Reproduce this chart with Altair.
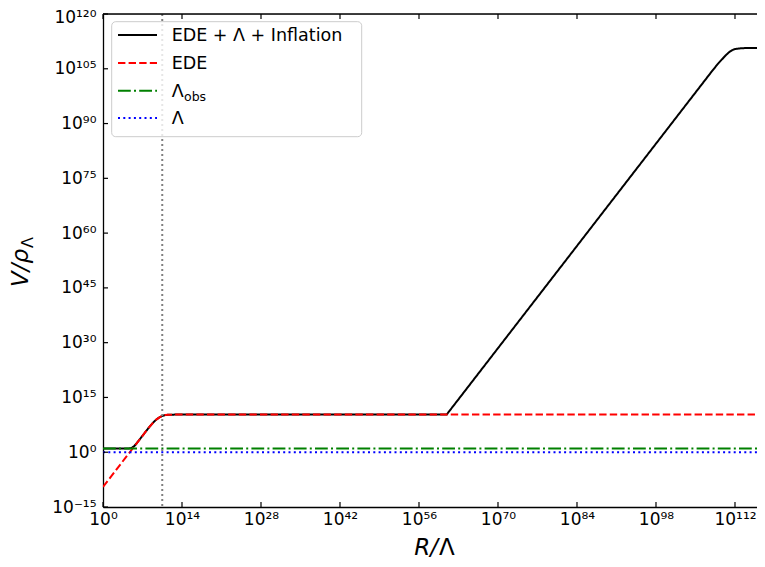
import altair as alt
import pandas as pd

# ---- data (log10 values) ----
X_TICK_EXP = [0, 14, 28, 42, 56, 70, 84, 98, 112]
Y_TICK_EXP = [-15, 0, 15, 30, 45, 60, 75, 90, 105, 120]
X_MIN_EXP, X_MAX_EXP = 0, 115.9
Y_MIN_EXP, Y_MAX_EXP = -15, 120

LOGR_TOTAL = [0, 4, 4.5, 5, 5.5, 6, 6.5, 7, 8, 9, 9.5, 10, 10.5, 11, 11.5, 12, 13, 60.9,
              70, 80, 90, 100, 108, 109, 110, 110.5, 111, 111.5, 112, 113, 114, 117.3]
LOGV_TOTAL = [1, 1.0, 1.01, 1.12, 1.62, 2.51, 3.5, 4.5, 6.5, 8.3, 9.0, 9.55, 9.95, 10.17, 10.26, 10.29, 10.3, 10.3,
              28.5, 48.5, 68.5, 88.5, 104.5, 106.4, 108.1, 108.9, 109.6, 110.1, 110.4, 110.6, 110.7, 110.7]

LOGR_EDE = [0, 2, 4, 6, 8, 9, 9.5, 10, 10.5, 11, 11.5, 12, 13, 117.3]
LOGV_EDE = [-9.5, -5.5, -1.5, 2.5, 6.5, 8.3, 9.0, 9.55, 9.95, 10.17, 10.26, 10.29, 10.3, 10.3]

LOGR_FLAT = [0, 117.3]
LOGV_LOBS = [1, 1]
LOGV_LAMBDA = [0, 0]

LOGR_MARKER = [10.5]

LEGEND_LABELS = ["EDE + Λ + Inflation", "EDE", "Λ", "Λ"]
LEGEND_SUB = ["", "", "obs", ""]

# ---- styles ----
COLORS = ["#000000", "#ff0000", "#008000", "#0000ff"]
DASHES = [[1, 0], [7.4, 3.2], [12.8, 3.2, 2, 3.2], [2, 3.3]]
FONT = "DejaVu Sans"
W, H = 654, 493

SUP = str.maketrans("0123456789-", "⁰¹²³⁴⁵⁶⁷⁸⁹⁻")


def sup(n):
    return str(n).translate(SUP)


def label_expr(exps):
    e = "round(log(datum.value)/LN10)"
    return "".join(f"{e}=={k} ? '10{sup(k)}' : " for k in exps) + "''"


XS = alt.Scale(type="log", domain=[10 ** X_MIN_EXP, 10 ** X_MAX_EXP], nice=False)
YS = alt.Scale(type="log", domain=[10.0 ** Y_MIN_EXP, 10.0 ** Y_MAX_EXP], nice=False)
XAX = alt.Axis(values=[10.0 ** e for e in X_TICK_EXP], labelExpr=label_expr(X_TICK_EXP),
               ticks=False, grid=False, title=None, domainColor="black", domainWidth=1.3,
               labelFont=FONT, labelFontSize=17, labelColor="black", labelPadding=4,
               labelFlush=False, labelOverlap=False)
YAX = alt.Axis(values=[10.0 ** e for e in Y_TICK_EXP], labelExpr=label_expr(Y_TICK_EXP),
               ticks=False, grid=False, title=None, domainColor="black", domainWidth=1.3,
               labelFont=FONT, labelFontSize=17, labelColor="black", labelPadding=7,
               labelOffset={"condition": {"test": "datum.value > 1e110", "value": 3}, "value": 0},
               labelFlush=False, labelOverlap=False)


def X(f):
    return alt.X(f, type="quantitative", scale=XS, axis=XAX)


def Y(f):
    return alt.Y(f, type="quantitative", scale=YS, axis=YAX)


def series_df(lr, lv):
    return pd.DataFrame({"R": [10.0 ** v for v in lr], "V": [10.0 ** v for v in lv],
                         "i": list(range(len(lr)))})


series = [
    series_df(LOGR_TOTAL, LOGV_TOTAL),
    series_df(LOGR_EDE, LOGV_EDE),
    series_df(LOGR_FLAT, LOGV_LOBS),
    series_df(LOGR_FLAT, LOGV_LAMBDA),
]

layers = []
for df, c, d in zip(series, COLORS, DASHES):
    layers.append(
        alt.Chart(df).mark_line(color=c, strokeWidth=2, strokeDash=d, clip=True)
        .encode(x=X("R"), y=Y("V"), order="i:Q")
    )

# vertical dotted marker
vdf = pd.DataFrame({"R": [10.0 ** v for v in LOGR_MARKER]})
layers.append(alt.Chart(vdf).mark_rule(color="#808080", strokeWidth=2, strokeDash=[2, 3])
              .encode(x=X("R")))

# inward ticks
xt = pd.DataFrame({"R": [10.0 ** e for e in X_TICK_EXP]})
yt = pd.DataFrame({"V": [10.0 ** e for e in Y_TICK_EXP]})
layers.append(alt.Chart(xt).mark_rule(color="black", strokeWidth=1.2)
              .encode(x=X("R"), y=alt.value(H), y2=alt.value(H - 5)))
layers.append(alt.Chart(xt).mark_rule(color="black", strokeWidth=1.2)
              .encode(x=X("R"), y=alt.value(0), y2=alt.value(5)))
layers.append(alt.Chart(yt).mark_rule(color="black", strokeWidth=1.2)
              .encode(y=Y("V"), x=alt.value(0), x2=alt.value(5)))

one = pd.DataFrame({"k": [0]})
# top spine
layers.append(alt.Chart(one).mark_rule(color="black", strokeWidth=1.3)
              .encode(x=alt.value(0), x2=alt.value(W), y=alt.value(0)))

# legend
layers.append(alt.Chart(one).mark_rect(fill="white", fillOpacity=0.8, stroke="#cccccc",
                                       strokeWidth=1, cornerRadius=4)
              .encode(x=alt.value(8.7), x2=alt.value(258.7), y=alt.value(7.7), y2=alt.value(122.7)))
LEG_Y = [21, 49, 76.7, 104]
for lab, sub, c, d, ly in zip(LEGEND_LABELS, LEGEND_SUB, COLORS, DASHES, LEG_Y):
    layers.append(alt.Chart(one).mark_rule(color=c, strokeWidth=2, strokeDash=d)
                  .encode(x=alt.value(15), x2=alt.value(54), y=alt.value(ly)))
    tdf = pd.DataFrame({"t": [lab]})
    layers.append(alt.Chart(tdf).mark_text(align="left", baseline="alphabetic", font=FONT,
                                           fontSize=17.5, color="black")
                  .encode(text="t:N", x=alt.value(68.7), y=alt.value(ly + 6.4)))
    if sub:
        sdf = pd.DataFrame({"t": [sub]})
        layers.append(alt.Chart(sdf).mark_text(align="left", baseline="alphabetic", font=FONT,
                                               fontSize=12.5, color="black")
                      .encode(text="t:N", x=alt.value(81), y=alt.value(ly + 10)))


# axis titles
def txt(s, x, y, size, style="normal", align="left", angle=0):
    d = pd.DataFrame({"t": [s]})
    return alt.Chart(d).mark_text(align=align, baseline="alphabetic", font=FONT, fontSize=size,
                                  fontStyle=style, color="black", angle=angle).encode(
        text="t:N", x=alt.value(x), y=alt.value(y))


layers.append(txt("V/ρ", -75, 273, 23, "italic", "left", 270))
layers.append(txt("Λ", -70, 234, 16, "normal", "left", 270))
layers.append(txt("R/", 335, 541, 23, "italic", "right"))
layers.append(txt("Λ", 336, 541, 23, "normal", "left"))

chart = alt.layer(*layers).properties(
    width=W, height=H,
    autosize=alt.AutoSizeParams(type="none"),
    padding={"left": 95, "top": 6, "right": 0, "bottom": 52},
).configure_view(stroke=None).configure(background="white")

chart.save("out.html", embed_options={"renderer": "svg", "actions": False})
